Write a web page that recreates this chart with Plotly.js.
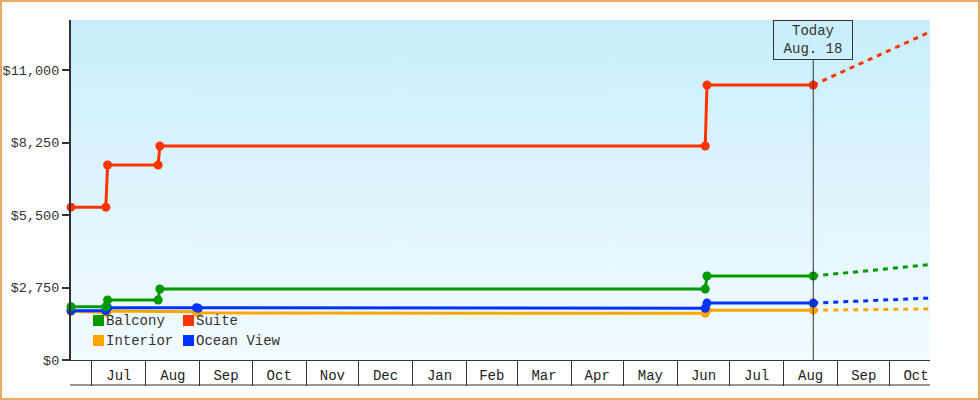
<!DOCTYPE html>
<html>
<head>
<meta charset="utf-8">
<script src="https://cdn.plot.ly/plotly-3.0.1.min.js"></script>
<style>
  html, body { margin: 0; padding: 0; background: #fff; }
  #wrap { position: relative; width: 980px; height: 400px; }
  #chart { width: 980px; height: 400px; }
  #frame { position: absolute; left: 0; top: 0; width: 980px; height: 400px; box-sizing: border-box;
           border: 2px solid #e9aa68; pointer-events: none; }
</style>
</head>
<body>
<div id="wrap"><div id="chart"></div><div id="frame"></div></div>
<script>
// ---- data ----
const seriesNames = ['Interior', 'Ocean View', 'Balcony', 'Suite'];
const seriesColors = ['#ffa500', '#0033ff', '#009900', '#ff3300'];

const interiorDates = ['2023-06-19','2023-07-09','2023-07-10','2023-08-30','2023-08-31','2024-06-17','2024-06-18','2024-08-18'];
const interiorPrices = [1850, 1800, 1860, 1830, 1790, 1770, 1890, 1890];

const oceanDates = ['2023-06-19','2023-07-09','2023-07-10','2023-08-30','2023-08-31','2024-06-17','2024-06-18','2024-08-18'];
const oceanPrices = [1870, 1870, 1985, 1985, 1965, 1965, 2160, 2160];

const balconyDates = ['2023-06-19','2023-07-09','2023-07-10','2023-08-08','2023-08-09','2024-06-17','2024-06-18','2024-08-18'];
const balconyPrices = [2020, 2020, 2275, 2275, 2695, 2695, 3185, 3185];

const suiteDates = ['2023-06-19','2023-07-09','2023-07-10','2023-08-08','2023-08-09','2024-06-17','2024-06-18','2024-08-18'];
const suitePrices = [5800, 5800, 7400, 7400, 8120, 8120, 10430, 10430];

const forecastDates = ['2024-08-18', '2024-09-20', '2024-10-24'];
const interiorForecast = [1890, 1910, 1935];
const oceanForecast = [2160, 2255, 2350];
const balconyForecast = [3185, 3395, 3620];
const suiteForecast = [10430, 11430, 12450];

const todayDate = '2024-08-18';
const todayLabel = 'Today<br>Aug. 18';
const xRange = ['2023-06-19', '2024-10-24'];
const yRange = [0, 12900];
const yTicks = [0, 2750, 5500, 8250, 11000];
const yTickLabels = ['$0', '$2,750', '$5,500', '$8,250', '$11,000'];

// legend layout order: rows of [name]
const legendRows = [['Balcony', 'Suite'], ['Interior', 'Ocean View']];

// ---- build ----
const solidDates = [interiorDates, oceanDates, balconyDates, suiteDates];
const solidPrices = [interiorPrices, oceanPrices, balconyPrices, suitePrices];
const fcPrices = [interiorForecast, oceanForecast, balconyForecast, suiteForecast];

const FONT = '"Liberation Mono", "DejaVu Sans Mono", monospace';
const traces = [];
for (let i = 0; i < 4; i++) {
  traces.push({
    x: forecastDates, y: fcPrices[i], type: 'scatter', mode: 'lines',
    line: {color: seriesColors[i], width: 3, dash: '5px,5px'},
    showlegend: false, hoverinfo: 'skip', cliponaxis: false
  });
}
for (let i = 0; i < 4; i++) {
  traces.push({
    x: solidDates[i], y: solidPrices[i], type: 'scatter', mode: 'lines+markers',
    name: seriesNames[i],
    line: {color: seriesColors[i], width: 3},
    marker: {color: seriesColors[i], size: 9, symbol: 'circle'},
    showlegend: false, cliponaxis: false
  });
}

// plot-area geometry (px) for legend placement
const M = {l: 71, r: 50, t: 20, b: 40};
const PW = 980 - M.l - M.r, PH = 400 - M.t - M.b;
const px2x = px => (px - M.l) / PW;
const py2y = py => (M.t + PH - py) / PH;

const shapes = [
  {type: 'line', xref: 'x', yref: 'paper', x0: todayDate, x1: todayDate, y0: 0, y1: py2y(60.3),
   line: {color: '#333', width: 1}},
  {type: 'line', xref: 'paper', yref: 'paper', x0: px2x(70), x1: 1, y0: py2y(385), y1: py2y(385),
   line: {color: '#333', width: 1}}
];
const annotations = [
  {x: todayDate, xref: 'x', y: 1, yref: 'paper', yanchor: 'top', xanchor: 'center',
   text: todayLabel, showarrow: false, bordercolor: '#333', borderwidth: 1, borderpad: 2,
   width: 74, height: 34, bgcolor: 'rgba(0,0,0,0)',
   font: {family: FONT, size: 14, color: '#333'}}
];
// manual two-column legend
const colX = [93, 183];
const rowY = [320.5, 340.5];
legendRows.forEach((row, r) => {
  row.forEach((name, c) => {
    const idx = seriesNames.indexOf(name);
    const x0 = colX[c], cyy = rowY[r];
    shapes.push({type: 'rect', xref: 'paper', yref: 'paper',
      x0: px2x(x0), x1: px2x(x0 + 11), y0: py2y(cyy + 5.5), y1: py2y(cyy - 5.5),
      line: {width: 0}, fillcolor: seriesColors[idx], layer: 'above'});
    annotations.push({x: px2x(x0 + 13), xref: 'paper', y: py2y(cyy), yref: 'paper',
      xanchor: 'left', yanchor: 'middle', text: name, showarrow: false, borderpad: 0, borderwidth: 0,
      font: {family: FONT, size: 14, color: '#333'}});
  });
});

// gradient background
const cv = document.createElement('canvas');
cv.width = 4; cv.height = 340;
const cx = cv.getContext('2d');
const gr = cx.createLinearGradient(0, 0, 0, 340);
gr.addColorStop(0, '#c8eefb');
gr.addColorStop(1, '#f3fbff');
cx.fillStyle = gr; cx.fillRect(0, 0, 4, 340);
const bgUrl = cv.toDataURL('image/png');

const layout = {
  width: 980, height: 400,
  margin: {l: M.l, r: M.r, t: M.t, b: M.b, pad: 0},
  paper_bgcolor: 'rgba(0,0,0,0)', plot_bgcolor: 'rgba(0,0,0,0)',
  font: {family: FONT, size: 14, color: '#333'},
  showlegend: false,
  images: [{source: bgUrl, xref: 'paper', yref: 'paper', x: 0, y: 1, sizex: 1, sizey: 1,
            xanchor: 'left', yanchor: 'top', sizing: 'stretch', layer: 'below'}],
  xaxis: {
    type: 'date', range: xRange, tickformat: '%b', ticklabelmode: 'period',
    dtick: 'M1', tick0: '2023-06-01', ticks: 'outside', ticklen: 25, tickwidth: 1, tickcolor: '#333',
    ticklabelstandoff: -23,
    showline: true, linecolor: '#333', linewidth: 1, showgrid: false, zeroline: false,
    tickfont: {family: FONT, size: 14, color: '#222'}
  },
  yaxis: {
    range: yRange, tickmode: 'array', tickvals: yTicks, ticktext: yTickLabels,
    ticks: 'outside', ticklen: 7, tickwidth: 2, tickcolor: '#333',
    showline: true, linecolor: '#333', linewidth: 2, showgrid: false, zeroline: false,
    tickfont: {family: FONT, size: 13.5, color: '#333'}
  },
  shapes: shapes,
  annotations: annotations
};

Plotly.newPlot('chart', traces, layout, {staticPlot: true, displayModeBar: false});
</script>
</body>
</html>
